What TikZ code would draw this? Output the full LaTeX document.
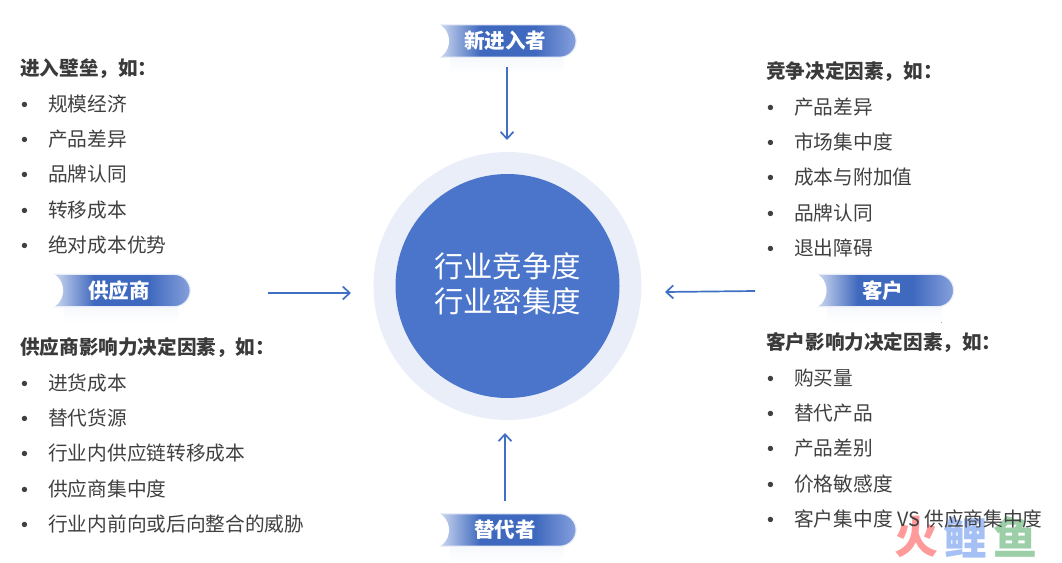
\documentclass[tikz,border=0pt]{standalone}
\usepackage{fontspec}
\setmainfont{Noto Sans CJK SC}
\newfontfamily\dotfont{Liberation Sans}
\usetikzlibrary{shapes,arrows.meta,positioning,calc}
\definecolor{coreblue}{HTML}{4A75CB}
\definecolor{ringblue}{HTML}{E9EEF8}
\definecolor{flowblue}{HTML}{4070C4}
\definecolor{bodygray}{HTML}{404040}
\definecolor{firepink}{HTML}{FF9A9A}
\definecolor{carpblue}{HTML}{A5C0F5}
\definecolor{fishgreen}{HTML}{9CCFA8}
\definecolor{pillleft}{HTML}{BCCBEA}
\definecolor{pilldark}{HTML}{3F69BE}
\definecolor{pillright}{HTML}{86A0DC}
\pgfdeclarehorizontalshading{pillshade}{100bp}{color(0bp)=(pillleft); color(27bp)=(pillleft); color(40bp)=(pilldark); color(60bp)=(pilldark); color(75bp)=(pillright); color(100bp)=(pillright)}
\tikzset{
  head/.style={anchor=base west,inner sep=0pt,font=\fontsize{19.6}{20}\selectfont\bfseries,text=bodygray!90!black},
  item/.style={anchor=base west,inner sep=0pt,font=\fontsize{19.7}{20}\selectfont,text=bodygray},
  pill/.style={rounded rectangle,rounded rectangle left arc=none,minimum width=137pt,minimum height=32.5pt,inner sep=0pt,
    shading=pillshade,draw=ringblue,line width=1.2pt,
    text=white,font=\fontsize{20.5}{21}\selectfont\bfseries,execute at begin node=\hspace*{-2pt}},
  flow/.style={draw=flowblue,line width=1.7pt,-{Straight Barb[length=7pt,width=13pt]}},
  logomark/.style={inner sep=0pt,font=\fontsize{44}{44}\selectfont\bfseries}
}
% heading and its bullet lines
\newcommand{\factors}[5]{
  \node[head] (#1) at (#2,#3+7.4) {#4};
  \foreach \txt [count=\i,evaluate=\i as \y using #3+8+35.25*\i] in {#5} {
    \node[item] (#1-dot-\i) at (#2+1,\y) {\dotfont •};
    \node[item] (#1-\i) at (#2+28,\y) {\txt};
  }
}
% pill with soft shadow under it and white notch on the left
\newcommand{\pilllabel}[4]{
  \fill[top color=ringblue!45,bottom color=white] (#2-56,#3+14) rectangle (#2+58,#3+32);
  \node[pill] (#1) at (#2,#3) {#4};
  \fill[white] ($(#1.west)+(-9,0)$) circle (19.5);
}
\begin{document}
\begin{tikzpicture}[x=1pt,y=-1pt]
\useasboundingbox (0,0) rectangle (1062,562);

% watermark
\node[logomark,text=firepink] (wmfire) at (916,537) {火};
\node[logomark,text=carpblue] (wmcarp) at (965,537) {鲤};
\node[logomark,text=fishgreen] (wmfish) at (1015,537) {鱼};

% centre
\node[circle,fill=ringblue,minimum size=268pt,inner sep=0pt] (ring) at (507.5,286) {};
\node[circle,fill=coreblue,minimum size=224pt,inner sep=0pt] (core) at (507.5,286) {};
\node[text=white,align=center,font=\fontsize{29.4}{35}\selectfont] (corelabel) at (507.5,284) {行业竞争度\\行业密集度};

% pills
\pilllabel{entrant}{506}{41}{新进入者}
\pilllabel{supplier}{120}{290.5}{供应商}
\pilllabel{customer}{883.5}{290.5}{客户}
\pilllabel{substitute}{506}{530}{替代者}

% lists
\factors{barrier}{20}{68}{进入壁垒，如：}{规模经济,产品差异,品牌认同,转移成本,绝对成本优势}
\factors{power}{20}{347}{供应商影响力决定因素，如：}{进货成本,替代货源,行业内供应链转移成本,供应商集中度,行业内前向或后向整合的威胁}
\factors{rivalry}{766}{71}{竞争决定因素，如：}{产品差异,市场集中度,成本与附加值,品牌认同,退出障碍}
\factors{buyer}{766}{342}{客户影响力决定因素，如：}{购买量,替代产品,产品差别,价格敏感度,客户集中度 VS 供应商集中度}

% arrows
\coordinate (entrantout) at (507,67);
\coordinate (entrantin) at (507,140);
\coordinate (supplierout) at (268,293);
\coordinate (supplierin) at (351,293);
\coordinate (customerout) at (755,291);
\coordinate (customerin) at (665,292);
\coordinate (substituteout) at (505,501);
\coordinate (substitutein) at (505,433);
\draw[flow] (entrantout) -- (entrantin);
\draw[flow] (supplierout) -- (supplierin);
\draw[flow] (customerout) -- (customerin);
\draw[flow] (substituteout) -- (substitutein);
\end{tikzpicture}
\end{document}
